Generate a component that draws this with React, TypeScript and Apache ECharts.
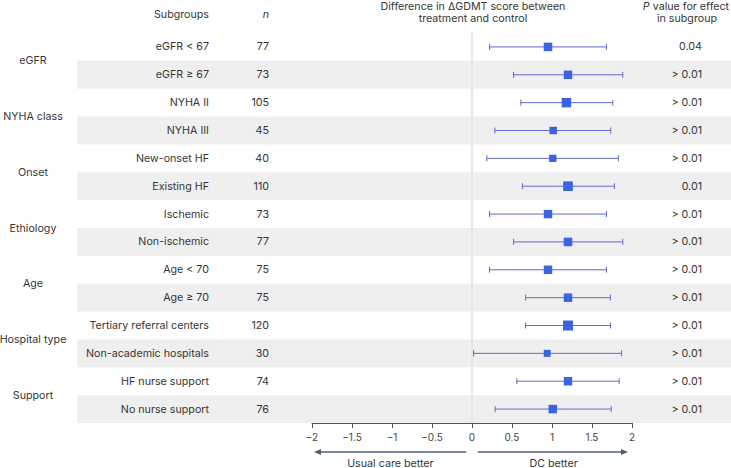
import React, { useEffect, useRef } from 'react';
import * as echarts from 'echarts';

const groups = ['eGFR', 'NYHA class', 'Onset', 'Ethiology', 'Age', 'Hospital type', 'Support'];
const subgroups = [
  'eGFR < 67', 'eGFR ≥ 67', 'NYHA II', 'NYHA III', 'New-onset HF', 'Existing HF',
  'Ischemic', 'Non-ischemic', 'Age < 70', 'Age ≥ 70', 'Tertiary referral centers',
  'Non-academic hospitals', 'HF nurse support', 'No nurse support',
];
const nValues = [77, 73, 105, 45, 40, 110, 73, 77, 75, 75, 120, 30, 74, 76];
const estimates = [0.95, 1.2, 1.18, 1.015, 1.01, 1.2, 0.95, 1.2, 0.95, 1.2, 1.2, 0.94, 1.2, 1.01];
const lowerCI = [0.22, 0.52, 0.61, 0.285, 0.185, 0.63, 0.22, 0.52, 0.22, 0.67, 0.67, 0.02, 0.56, 0.29];
const upperCI = [1.68, 1.885, 1.76, 1.735, 1.83, 1.78, 1.68, 1.885, 1.68, 1.73, 1.73, 1.87, 1.84, 1.74];
const pValues = ['0.04', '> 0.01', '> 0.01', '> 0.01', '> 0.01', '0.01', '> 0.01', '> 0.01', '> 0.01', '> 0.01', '> 0.01', '> 0.01', '> 0.01', '> 0.01'];
const xMin = -2;
const xMax = 2;
const xStep = 0.5;

const FONT = 'Inter, Roboto, "Liberation Sans", Arial, sans-serif';
const FS = 10.7;
const TXT = '#363636';

export default function App() {
  const ref = useRef<HTMLDivElement>(null);
  useEffect(() => {
    if (!ref.current) return;
    const chart = echarts.init(ref.current, undefined, { renderer: 'svg' });
    const txt = (text: string, x: number, y: number, align: string, italic = false) => ({
      type: 'text',
      style: { text, x, y, align, verticalAlign: 'middle', font: `${italic ? 'italic ' : ''}${FS}px ${FONT}`, fill: TXT },
    });
    const option: any = {
      animation: false,
      backgroundColor: '#ffffff',
      textStyle: { fontFamily: FONT },
      grid: { left: 312, right: 99, top: 33, bottom: 45, containLabel: false },
      xAxis: {
        type: 'value', min: xMin, max: xMax, interval: xStep,
        splitLine: { show: false },
        axisLine: { show: true, onZero: false, lineStyle: { color: '#555', width: 1 } },
        axisTick: { show: true, length: 5, lineStyle: { color: '#555' } },
        axisLabel: {
          fontFamily: FONT, fontSize: 10, color: '#444', margin: 9,
          formatter: (v: number) => String(v).replace('-', '−'),
        },
      },
      yAxis: {
        type: 'category', data: subgroups, inverse: true, position: 'left',
        axisLine: { show: false }, axisTick: { show: false }, splitLine: { show: false },
        axisLabel: { show: false },
      },
      graphic: [
        txt('Subgroups', 209, 14, 'right'),
        txt('n', 269, 14, 'right', true),
        txt('Difference in ΔGDMT score between', 473, 6, 'center'),
        txt('treatment and control', 473, 18.5, 'center'),
        {
          type: 'text', style: {
            text: '{i|P} value for effect', x: 686, y: 6, align: 'center', verticalAlign: 'middle',
            font: `${FS}px ${FONT}`, fill: TXT,
            rich: { i: { fontStyle: 'italic', fontFamily: FONT, fontSize: FS, fill: TXT } },
          },
        },
        txt('in subgroup', 687, 18.5, 'center'),
      ],
      series: [
        {
          type: 'custom', name: 'rows', z: 1, clip: false, silent: true,
          data: subgroups.map((_, i) => [0, i]),
          encode: { x: 0, y: 1 },
          renderItem: (_p: any, api: any) => {
            const i = api.value(1);
            const c = api.coord([0, i]);
            const h = api.size([0, 1])[1];
            const children: any[] = [];
            if (i % 2 === 1) {
              children.push({
                type: 'rect',
                shape: { x: 77, y: c[1] - h / 2, width: api.getWidth() - 77, height: h },
                style: { fill: '#efefef' },
              });
            }
            children.push({
              type: 'line',
              shape: { x1: c[0], y1: c[1] - h / 2, x2: c[0], y2: c[1] + h / 2 },
              style: { stroke: '#e0e0e0', lineWidth: 1.5 },
            });
            children.push(txt(subgroups[i], 209, c[1], 'right'));
            children.push(txt(String(nValues[i]), 269, c[1], 'right'));
            children.push(txt(pValues[i], 702, c[1], 'right'));
            if (i % 2 === 1) {
              children.push(txt(groups[(i - 1) / 2], 33, c[1] - h / 2, 'center'));
            }
            return { type: 'group', children };
          },
        },
        {
          type: 'custom', name: 'ci', z: 2, clip: false, silent: true,
          data: lowerCI.map((lo, i) => [lo, upperCI[i], i]),
          encode: { x: [0, 1], y: 2 },
          renderItem: (_p: any, api: any) => {
            const a = api.coord([api.value(0), api.value(2)]);
            const b = api.coord([api.value(1), api.value(2)]);
            const st = { stroke: '#6169cf', lineWidth: 1 };
            return {
              type: 'group',
              children: [
                { type: 'line', shape: { x1: a[0], y1: a[1], x2: b[0], y2: b[1] }, style: st },
                { type: 'line', shape: { x1: a[0], y1: a[1] - 3, x2: a[0], y2: a[1] + 3 }, style: st },
                { type: 'line', shape: { x1: b[0], y1: b[1] - 3, x2: b[0], y2: b[1] + 3 }, style: st },
              ],
            };
          },
        },
        {
          type: 'scatter', name: 'estimate', z: 3,
          symbol: 'rect',
          symbolSize: (_v: any, p: any) => 6 + nValues[p.dataIndex] / 30,
          itemStyle: { color: '#3d64e0', opacity: 1 },
          data: estimates.map((e, i) => [e, i]),
        },
        {
          type: 'custom', name: 'direction', z: 2, clip: false, silent: true,
          data: [[0, subgroups.length - 1]],
          encode: { x: 0, y: 1 },
          renderItem: (_p: any, api: any) => {
            const bottom = api.coord([0, api.value(1)])[1] + api.size([0, 1])[1] / 2;
            const ay = bottom + 29;
            const ty = bottom + 40;
            const l1 = api.coord([-0.075, 0])[0];
            const l2 = api.coord([-1.975, 0])[0];
            const r1 = api.coord([0.075, 0])[0];
            const r2 = api.coord([1.95, 0])[0];
            const col = '#4f5f78';
            const ls = { stroke: col, lineWidth: 1.5 };
            return {
              type: 'group',
              children: [
                { type: 'line', shape: { x1: l1, y1: ay, x2: l2 + 5, y2: ay }, style: ls },
                { type: 'polygon', shape: { points: [[l2, ay], [l2 + 7, ay - 3], [l2 + 7, ay + 3]] }, style: { fill: col } },
                { type: 'line', shape: { x1: r1, y1: ay, x2: r2 - 5, y2: ay }, style: ls },
                { type: 'polygon', shape: { points: [[r2, ay], [r2 - 7, ay - 3], [r2 - 7, ay + 3]] }, style: { fill: col } },
                txt('Usual care better', api.coord([-1.02, 0])[0], ty, 'center'),
                txt('DC better', api.coord([1.02, 0])[0], ty, 'center'),
              ],
            };
          },
        },
      ],
    };
    chart.setOption(option);
    return () => chart.dispose();
  }, []);
  return <div ref={ref} style={{ position: 'fixed', left: 0, top: 0, width: 731, height: 468 }} />;
}
